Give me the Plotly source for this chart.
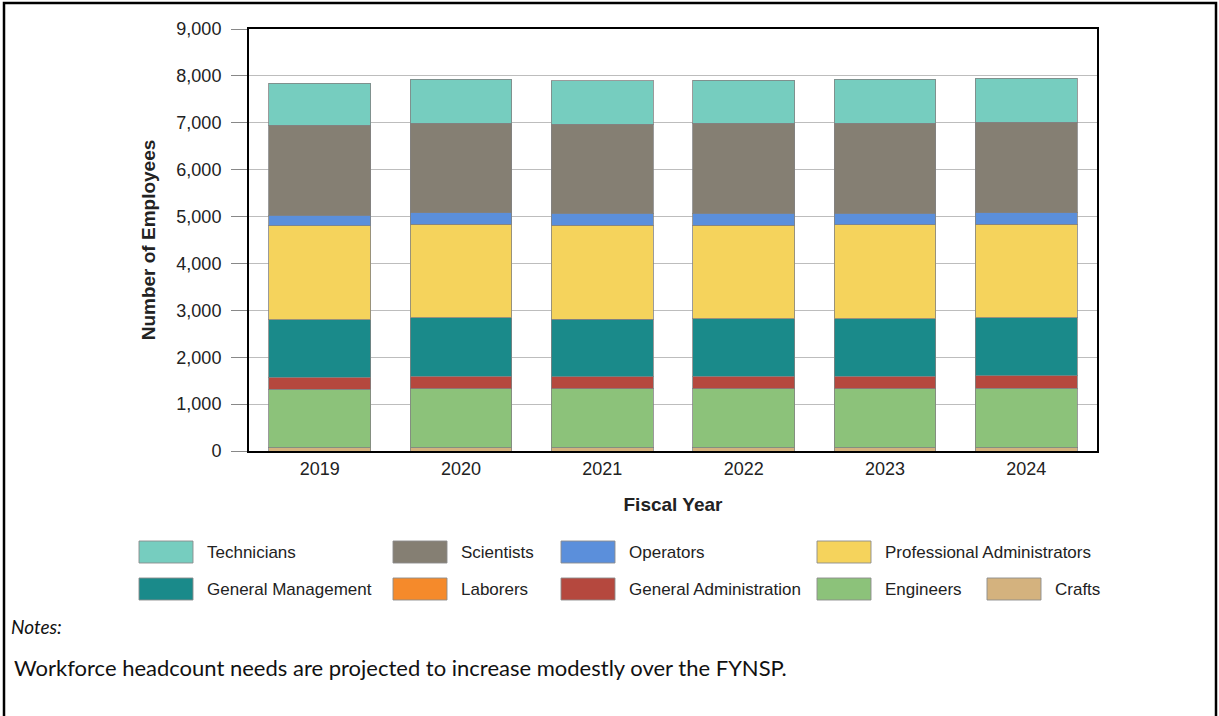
import plotly.graph_objects as go

years = ["2019", "2020", "2021", "2022", "2023", "2024"]

crafts = [65, 65, 65, 65, 65, 65]
laborers = [8, 8, 8, 8, 8, 8]
engineers = [1245, 1250, 1250, 1250, 1250, 1265]
general_administration = [255, 275, 265, 275, 275, 262]
general_management = [1222, 1240, 1225, 1220, 1220, 1243]
professional_administrators = [2010, 2002, 2007, 2002, 2007, 1997]
operators = [228, 241, 249, 249, 250, 241]
scientists = [1918, 1906, 1905, 1918, 1920, 1927]
technicians = [896, 938, 923, 925, 931, 938]

series_names = ["Crafts", "Laborers", "Engineers", "General Administration",
                "General Management", "Professional Administrators",
                "Operators", "Scientists", "Technicians"]
series_values = [crafts, laborers, engineers, general_administration,
                 general_management, professional_administrators,
                 operators, scientists, technicians]
series_colors = ["#D4B27E", "#F58A2B", "#8CC27A", "#B5483E",
                 "#1A8A8A", "#F5D35C", "#5B8FDB", "#857F73", "#76CDBF"]

legend_rows = [
    ["Technicians", "Scientists", "Operators", "Professional Administrators"],
    ["General Management", "Laborers", "General Administration", "Engineers", "Crafts"],
]

W, H = 1219, 716
L, R, T, B = 249, 1097, 29, 451  # plot area in pixels
pw, ph = R - L, B - T


def px(x):
    return (x - L) / pw


def py(y):
    return (B - y) / ph


fig = go.Figure()
for name, vals, col in zip(series_names, series_values, series_colors):
    fig.add_trace(go.Bar(
        x=years, y=vals, name=name, showlegend=False,
        marker=dict(color=col, line=dict(color="rgba(130,130,130,0.8)", width=1)),
    ))

color_of = dict(zip(series_names, series_colors))
col_x = [139, 393, 561, 817, 987]
row_y = [552, 589]
shapes = []
annotations = []
for r, row in enumerate(legend_rows):
    for c, name in enumerate(row):
        x0 = col_x[c]
        yc = row_y[r]
        shapes.append(dict(type="rect", xref="paper", yref="paper",
                           x0=px(x0), x1=px(x0 + 54), y0=py(yc + 11), y1=py(yc - 11),
                           fillcolor=color_of[name],
                           line=dict(color="rgba(140,140,140,0.9)", width=1)))
        annotations.append(dict(xref="paper", yref="paper", x=px(x0 + 66), y=py(yc),
                                text=name, showarrow=False, xanchor="left", yanchor="middle",
                                font=dict(family="Liberation Sans, Arial", size=17, color="#222")))

# outer border
shapes.append(dict(type="rect", xref="paper", yref="paper",
                   x0=px(4), x1=px(1216), y0=py(730), y1=py(3),
                   line=dict(color="black", width=2.5), fillcolor="rgba(0,0,0,0)"))

annotations.append(dict(xref="paper", yref="paper", x=px(9), y=py(626),
                        text="<i>Notes:</i>", showarrow=False, xanchor="left", yanchor="middle",
                        font=dict(family="Lato, Open Sans", size=19, color="#111")))
annotations.append(dict(xref="paper", yref="paper", x=px(12), y=py(667),
                        text="Workforce headcount needs are projected to increase modestly over the FYNSP.",
                        showarrow=False, xanchor="left", yanchor="middle",
                        font=dict(family="Lato, Open Sans", size=22, color="#111")))

fig.update_layout(
    width=W, height=H,
    margin=dict(l=L, r=W - R, t=T, b=H - B, pad=0),
    barmode="stack", bargap=0.28,
    paper_bgcolor="white", plot_bgcolor="white",
    font=dict(family="Liberation Sans, Arial", size=18, color="#222"),
    shapes=shapes, annotations=annotations,
    xaxis=dict(
        showline=True, linecolor="black", linewidth=2, mirror=True,
        ticks="", tickfont=dict(size=18),
        title=dict(text="<b>Fiscal Year</b>", font=dict(size=19), standoff=20),
    ),
    yaxis=dict(
        range=[0, 9000], dtick=1000, tickformat=",",
        showline=True, linecolor="black", linewidth=2, mirror=True,
        showgrid=True, gridcolor="#BDBDBD", gridwidth=1,
        ticks="outside", ticklen=16, tickcolor="#888", tickwidth=1,
        ticklabelstandoff=6, tickfont=dict(size=18),
        title=dict(text="<b>Number of Employees</b>", font=dict(size=19), standoff=16),
    ),
)

fig.write_html("out.html", config={"displayModeBar": False},
               post_script="document.body.style.margin='0';document.body.style.padding='0';")
